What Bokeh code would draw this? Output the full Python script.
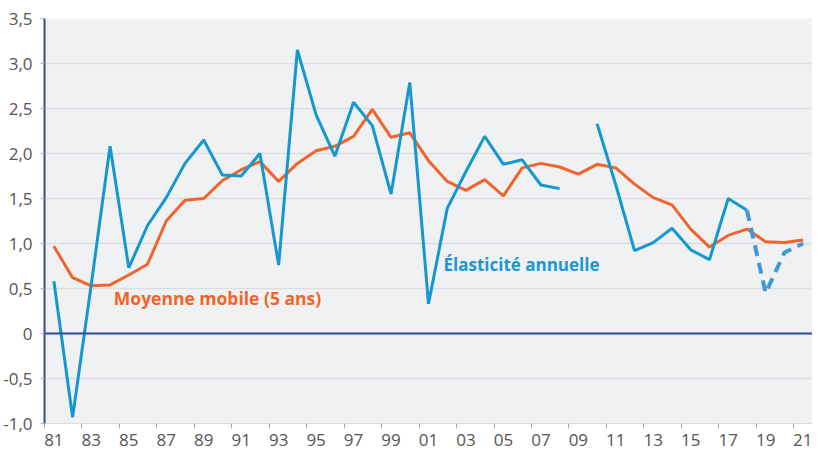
import math
from bokeh.plotting import figure
from bokeh.models import Range1d, FixedTicker, Span, Label
from bokeh.embed import file_html
from bokeh.resources import INLINE

# ---- data ----
years = list(range(1981, 2022))
elasticite_years = list(range(1981, 2019))
elasticite = [0.58, -0.93, 0.55, 2.08, 0.73, 1.20, 1.51, 1.89, 2.15, 1.76,
              1.75, 2.00, 0.76, 3.15, 2.43, 1.97, 2.57, 2.31, 1.55, 2.79,
              0.33, 1.39, 1.80, 2.19, 1.88, 1.93, 1.65, 1.61, math.nan, 2.33,
              1.65, 0.92, 1.01, 1.17, 0.93, 0.82, 1.50, 1.37]
provisoire_years = [2018, 2019, 2020, 2021]
provisoire = [1.37, 0.45, 0.90, 1.00]
moyenne = [0.97, 0.62, 0.53, 0.54, 0.65, 0.77, 1.25, 1.48, 1.50, 1.70,
           1.82, 1.91, 1.69, 1.89, 2.03, 2.08, 2.19, 2.49, 2.18, 2.23,
           1.92, 1.69, 1.59, 1.71, 1.53, 1.84, 1.89, 1.85, 1.77, 1.88,
           1.84, 1.66, 1.51, 1.43, 1.16, 0.96, 1.09, 1.16, 1.02, 1.01, 1.04]
y_ticks = [-1.0, -0.5, 0.0, 0.5, 1.0, 1.5, 2.0, 2.5, 3.0, 3.5]
y_tick_labels = ["-1,0", "-0,5", "0", "0,5", "1,0", "1,5", "2,0", "2,5", "3,0", "3,5"]
x_label_years = list(range(1981, 2022, 2))
x_tick_labels = [str(y)[2:] for y in x_label_years]
x_tick_marks = [y - 0.5 for y in x_label_years]

BLUE = "#1597cf"
BLUE_DASH = "#3f98d8"
ORANGE = "#f1652a"
NAVY = "#2c4c9c"
FONT = "Open Sans"

p = figure(width=812, height=451, output_backend="svg", toolbar_location=None,
           x_range=Range1d(1980.5, 2021.5), y_range=Range1d(-1.0, 3.5),
           min_border_left=43, min_border_right=0, min_border_top=18,
           min_border_bottom=28)
p.outline_line_color = None
p.background_fill_color = "#f0f1f3"
p.border_fill_color = "white"

# y axis
p.yaxis.ticker = FixedTicker(ticks=y_ticks)
p.yaxis.major_label_overrides = {t: l for t, l in zip(y_ticks, y_tick_labels)}
p.yaxis.axis_line_color = NAVY
p.yaxis.axis_line_width = 2
p.yaxis.major_tick_line_color = "#b5b5b5"
p.yaxis.major_tick_out = 4
p.yaxis.major_tick_in = 0
p.yaxis.minor_tick_line_color = None
p.yaxis.major_label_text_font = FONT
p.yaxis.major_label_text_font_size = "17px"
p.yaxis.major_label_text_color = "#555555"
p.yaxis.major_label_standoff = 8

# x axis
p.xaxis.ticker = FixedTicker(ticks=x_label_years, minor_ticks=x_tick_marks)
p.xaxis.major_label_overrides = {t: l for t, l in zip(x_label_years, x_tick_labels)}
p.xaxis.axis_line_color = "#dcdde0"
p.xaxis.major_tick_line_color = None
p.xaxis.major_tick_out = 0
p.xaxis.major_tick_in = 0
p.xaxis.minor_tick_line_color = "#a8a8a8"
p.xaxis.minor_tick_out = 5
p.xaxis.minor_tick_in = 0
p.xaxis.major_label_text_font = FONT
p.xaxis.major_label_text_font_size = "17px"
p.xaxis.major_label_text_color = "#555555"
p.xaxis.major_label_standoff = 5

# grid
p.xgrid.grid_line_color = None
p.ygrid.ticker = FixedTicker(ticks=y_ticks)
p.ygrid.grid_line_color = "#dcdde1"
p.ygrid.grid_line_width = 1.5

p.add_layout(Span(location=0, dimension="width", line_color=NAVY, line_width=2))

p.line(years, moyenne, line_color=ORANGE, line_width=3)
p.line(elasticite_years, elasticite, line_color=BLUE, line_width=3)
p.line(provisoire_years, provisoire, line_color=BLUE_DASH, line_width=4,
       line_dash="11 7")

p.add_layout(Label(x=1984.2, y=0.39, text="Moyenne mobile (5 ans)",
                   text_font=FONT, text_font_style="bold", text_font_size="17.5px",
                   text_color=ORANGE, text_baseline="middle", text_align="left"))
p.add_layout(Label(x=2001.8, y=0.77, text="Élasticité annuelle",
                   text_font=FONT, text_font_style="bold", text_font_size="17px",
                   text_color="#1a98d2", text_baseline="middle", text_align="left"))

open("out.html", "w").write(file_html(p, INLINE))
